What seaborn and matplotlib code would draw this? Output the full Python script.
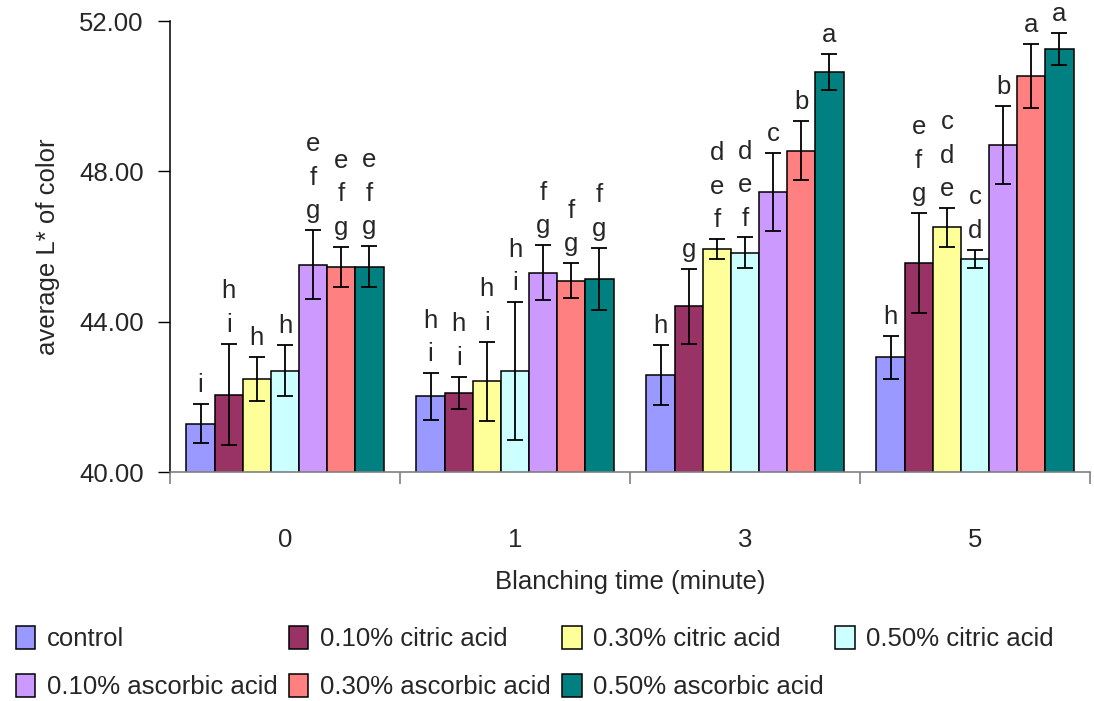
import numpy as np
import pandas as pd
import matplotlib
matplotlib.use("Agg")
import matplotlib.pyplot as plt
from matplotlib.ticker import FormatStrFormatter, FixedLocator
import seaborn as sns

# ---- data -------------------------------------------------------------
times = ["0", "1", "3", "5"]
treatments = ["control", "0.10% citric acid", "0.30% citric acid",
              "0.50% citric acid", "0.10% ascorbic acid",
              "0.30% ascorbic acid", "0.50% ascorbic acid"]

control = [41.28, 42.01, 42.58, 43.05]
citric_010 = [42.06, 42.10, 44.41, 45.56]
citric_030 = [42.47, 42.42, 45.93, 46.51]
citric_050 = [42.69, 42.69, 45.83, 45.67]
ascorbic_010 = [45.52, 45.30, 47.45, 48.70]
ascorbic_030 = [45.46, 45.09, 48.55, 50.53]
ascorbic_050 = [45.46, 45.14, 50.64, 51.26]

err_control = [0.52, 0.62, 0.79, 0.58]
err_citric_010 = [1.35, 0.43, 1.00, 1.32]
err_citric_030 = [0.58, 1.05, 0.27, 0.51]
err_citric_050 = [0.68, 1.83, 0.41, 0.25]
err_ascorbic_010 = [0.91, 0.73, 1.03, 1.04]
err_ascorbic_030 = [0.53, 0.47, 0.79, 0.85]
err_ascorbic_050 = [0.55, 0.83, 0.48, 0.42]

grp_control = ["i", "h\ni", "h", "h"]
grp_citric_010 = ["h\ni", "h\ni", "g", "e\nf\ng"]
grp_citric_030 = ["h", "h\ni", "d\ne\nf", "c\nd\ne"]
grp_citric_050 = ["h", "h\ni", "d\ne\nf", "c\nd"]
grp_ascorbic_010 = ["e\nf\ng", "f\ng", "c", "b"]
grp_ascorbic_030 = ["e\nf\ng", "f\ng", "b", "a"]
grp_ascorbic_050 = ["e\nf\ng", "f\ng", "a", "a"]

colors = ["#9999FF", "#993366", "#FFFF99", "#CCFFFF",
          "#CC99FF", "#FF8080", "#008080"]

means = [control, citric_010, citric_030, citric_050,
         ascorbic_010, ascorbic_030, ascorbic_050]
errs = [err_control, err_citric_010, err_citric_030, err_citric_050,
        err_ascorbic_010, err_ascorbic_030, err_ascorbic_050]
groups = [grp_control, grp_citric_010, grp_citric_030, grp_citric_050,
          grp_ascorbic_010, grp_ascorbic_030, grp_ascorbic_050]

rows = []
for t_name, m, e, g in zip(treatments, means, errs, groups):
    for time, mv, ev, gv in zip(times, m, e, g):
        rows.append({"time": time, "treatment": t_name,
                     "mean": mv, "err": ev, "group": gv})
df = pd.DataFrame(rows)

# ---- figure -----------------------------------------------------------
sns.set_style("white")
plt.rcParams["font.family"] = ["Liberation Sans", "DejaVu Sans"]
FS = 18.5

fig = plt.figure(figsize=(10.94, 7.01), dpi=100)
ax = fig.add_axes([170 / 1094, 1 - 472 / 701, 920 / 1094, 451 / 701])

sns.barplot(data=df, x="time", y="mean", hue="treatment",
            order=times, hue_order=treatments, palette=colors,
            width=0.857, gap=0, errorbar=None, edgecolor="black",
            linewidth=1.1, saturation=1, ax=ax)

# error bars and significance letters, positioned from the drawn bars
for i, t_name in enumerate(treatments):
    sub = df[df["treatment"] == t_name].set_index("time").loc[times]
    cont = ax.containers[i]
    xs = [b.get_x() + b.get_width() / 2 for b in cont]
    ax.errorbar(xs, sub["mean"].values, yerr=sub["err"].values,
                fmt="none", ecolor="black", elinewidth=1.3,
                capsize=5.5, capthick=1.3, zorder=5)
    for x, mv, ev, gv in zip(xs, sub["mean"], sub["err"], sub["group"]):
        ax.annotate(gv, xy=(x, mv + ev), xytext=(0, 5),
                    textcoords="offset points", ha="center", va="bottom",
                    fontsize=FS, linespacing=1.5, annotation_clip=False)

ax.set_ylim(40, 52)
ax.set_xlim(-0.5, 3.5)
ax.yaxis.set_major_locator(FixedLocator([40, 44, 48, 52]))
ax.yaxis.set_major_formatter(FormatStrFormatter("%.2f"))
ax.xaxis.set_minor_locator(FixedLocator([-0.5, 0.5, 1.5, 2.5, 3.5]))

ax.tick_params(axis="y", which="major", direction="out", length=9,
               width=1, color="black", labelsize=FS, pad=10, left=True)
ax.tick_params(axis="x", which="major", length=0, labelsize=FS, pad=40)
ax.tick_params(axis="x", which="minor", direction="out", length=8.5,
               width=1.2, color="#7f7f7f", bottom=True)

for s in ["top", "right"]:
    ax.spines[s].set_visible(False)
ax.spines["left"].set_color("black")
ax.spines["left"].set_linewidth(1.1)
ax.spines["bottom"].set_color("#7f7f7f")
ax.spines["bottom"].set_linewidth(1.2)

ax.set_xlabel("Blanching time (minute)", fontsize=FS, labelpad=13)
ax.set_ylabel("average L* of color", fontsize=FS, labelpad=14)

# legend below the plot, filled row by row
handles, labels = ax.get_legend_handles_labels()
ax.get_legend().remove()
order = [0, 4, 1, 5, 2, 6, 3]
fig.legend([handles[k] for k in order], [labels[k] for k in order],
           loc="upper left", bbox_to_anchor=(16 / 1094, 1 - 626 / 701),
           ncol=4, frameon=False, fontsize=FS, handlelength=0.75,
           handleheight=1.0, handletextpad=0.45, columnspacing=0.45,
           labelspacing=0.88, borderpad=0, borderaxespad=0)

fig.savefig("out.png", dpi=100)
